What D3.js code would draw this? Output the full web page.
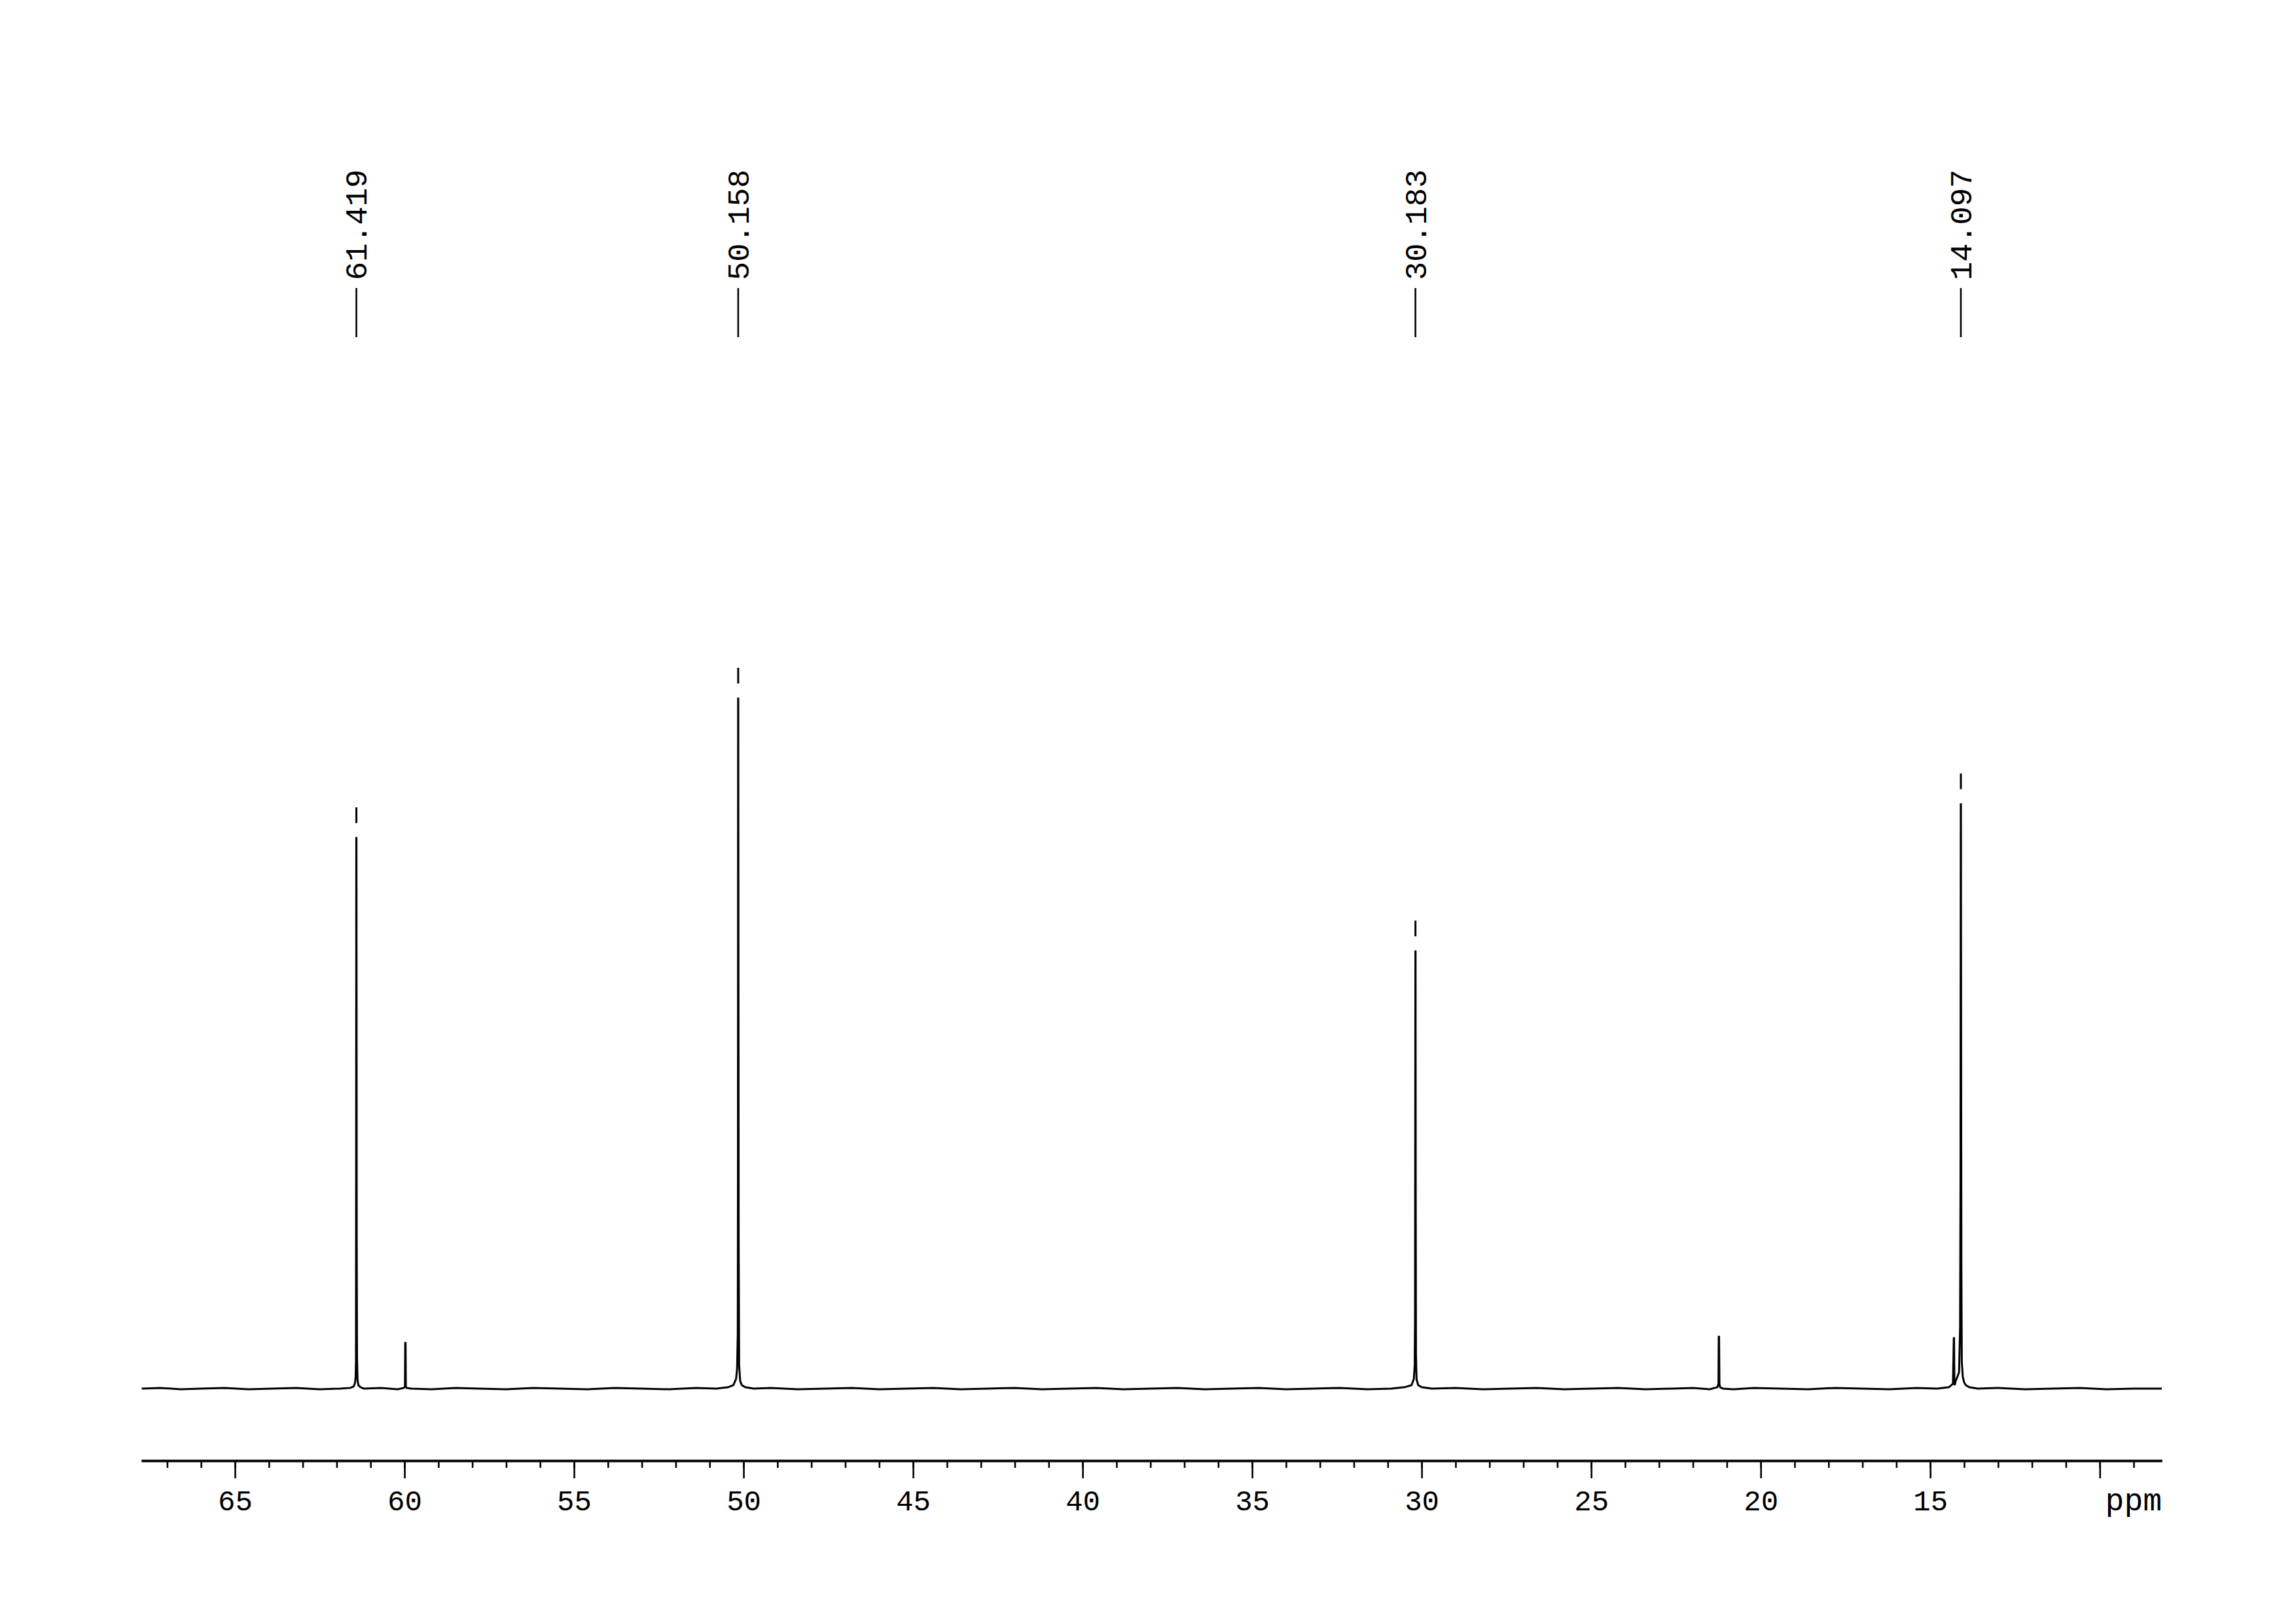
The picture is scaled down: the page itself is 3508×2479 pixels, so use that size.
<!DOCTYPE html>
<html>
<head>
<meta charset="utf-8">
<script src="https://cdn.jsdelivr.net/npm/d3@7"></script>
<style>
  html, body { margin: 0; padding: 0; background: #fff; }
  svg { display: block; }
</style>
</head>
<body>
<script>
// ---------- data ----------
const axisDomain = [67.76, 8.17];          // ppm, left -> right
const majorTicks = [65, 60, 55, 50, 45, 40, 35, 30, 25, 20, 15, 10];
const minorTicks = d3.range(67, 8, -1);   // every 1 ppm
const tickLabels = ["65","60","55","50","45","40","35","30","25","20","15",""];
const axisUnit = "ppm";

const peakLabels = [61.419, 50.158, 30.183, 14.097];
const peakLabelTexts = ["61.419", "50.158", "30.183", "14.097"];
const peakTops = [79.8, 100, 63.4, 84.7];  // intensity of labelled peaks

// spectrum trace: ppm and relative intensity
const tracePpm = [
  67.75, 67.2, 66.6, 66.0, 65.3, 64.6, 63.9, 63.2, 62.5, 61.9, 61.60, 61.50,
  61.46, 61.44, 61.430, 61.425, 61.421, 61.417, 61.413, 61.409, 61.400, 61.385, 61.36, 61.30, 61.2,
  60.7, 60.2, 60.02, 59.985, 59.978, 59.968, 59.960, 59.94, 59.8, 59.2, 58.5, 57.8, 57.0, 56.2,
  55.4, 54.6, 53.8, 53.0, 52.2, 51.4, 50.8, 50.45, 50.30, 50.22, 50.19, 50.170, 50.164,
  50.160, 50.156, 50.150, 50.144, 50.13, 50.10, 50.05, 49.95, 49.7, 49.2, 48.4, 47.6, 46.8,
  46.0, 45.2, 44.4, 43.6, 42.8, 42.0, 41.2, 40.4, 39.6, 38.8, 38.0, 37.2, 36.4, 35.6, 34.8,
  34.0, 33.2, 32.4, 31.6, 30.9, 30.5, 30.30, 30.23, 30.205, 30.195, 30.188, 30.184, 30.180,
  30.175, 30.168, 30.15, 30.10, 30.0, 29.7, 29.0, 28.2, 27.4, 26.6, 25.8, 25.0, 24.2, 23.4,
  22.6, 22.0, 21.5, 21.28, 21.245, 21.238, 21.228, 21.218, 21.20, 21.12, 20.8, 20.2, 19.4, 18.6,
  17.8, 17.0, 16.2, 15.4, 14.8, 14.45, 14.33, 14.305, 14.298, 14.288, 14.278, 14.25, 14.20, 14.15,
  14.120, 14.108, 14.100, 14.095, 14.090, 14.082, 14.07, 14.04, 14.00, 13.95, 13.85, 13.6, 13.0,
  12.2, 11.4, 10.6, 9.8, 9.0, 8.17
];
const traceInt = [
  0.1, 0.2, 0.0, 0.1, 0.2, 0.0, 0.1, 0.2, 0.0, 0.1, 0.2, 0.4,
  0.9, 1.8, 4.0, 36.0, 79.8, 79.8, 56.0, 22.0, 4.5, 1.4, 0.6, 0.3, 0.1,
  0.2, 0.0, 0.2, 0.4, 6.7, 6.7, 0.4, 0.2, 0.1, 0.0, 0.2, 0.1, 0.0, 0.2,
  0.1, 0.0, 0.2, 0.1, 0.0, 0.2, 0.1, 0.3, 0.6, 1.5, 3.0, 8.0, 32.0,
  100, 100, 60.0, 22.0, 3.5, 1.2, 0.6, 0.3, 0.1, 0.2, 0.0, 0.1, 0.2,
  0.0, 0.1, 0.2, 0.0, 0.1, 0.2, 0.0, 0.1, 0.2, 0.0, 0.1, 0.2, 0.0, 0.1, 0.2,
  0.0, 0.1, 0.2, 0.0, 0.1, 0.3, 0.6, 1.5, 3.5, 10.0, 45.0, 63.4, 63.4,
  28.0, 5.0, 1.4, 0.6, 0.3, 0.1, 0.2, 0.0, 0.1, 0.2, 0.0, 0.1, 0.2, 0.0,
  0.1, 0.2, 0.0, 0.3, 0.8, 7.6, 7.6, 0.8, 0.3, 0.1, 0.0, 0.2, 0.1, 0.0,
  0.2, 0.1, 0.0, 0.2, 0.1, 0.3, 0.8, 7.4, 7.4, 0.8, 0.6, 1.2, 1.8, 2.5,
  9.0, 30.0, 84.7, 84.7, 55.0, 18.0, 4.0, 1.8, 1.0, 0.6, 0.3, 0.1, 0.2,
  0.0, 0.1, 0.2, 0.0, 0.1, 0.1
];

// ---------- layout ----------
const W = 3508, H = 2479;
const plotLeft = 216, plotRight = 3303;
const baseY = 2122, fullY = 1067;
const axisY = 2231;
const FONT = "'Liberation Mono', 'DejaVu Sans Mono', monospace";

const svg = d3.select("body").append("svg")
  .attr("width", W).attr("height", H)
  .attr("viewBox", `0 0 ${W} ${H}`);
svg.append("rect").attr("width", W).attr("height", H).attr("fill", "#fff");

const x = d3.scaleLinear().domain(axisDomain).range([plotLeft, plotRight]);
const y = d3.scaleLinear().domain([0, 100]).range([baseY, fullY]);

// ---------- spectrum ----------
const n = Math.min(tracePpm.length, traceInt.length);
const trace = tracePpm.slice(0, n).map((p, i) => [p, traceInt[i]]);
svg.append("path")
  .datum(trace)
  .attr("fill", "none")
  .attr("stroke", "#000")
  .attr("stroke-width", 3)
  .attr("stroke-linejoin", "miter")
  .attr("d", d3.line().x(d => x(d[0])).y(d => y(d[1])));

// ---------- peak markers & labels ----------
const pk = svg.append("g");
peakLabels.forEach((v, i) => {
  const px = x(v);
  const top = y(peakTops[i]);
  // short mark above the peak top
  pk.append("line")
    .attr("x1", px).attr("x2", px)
    .attr("y1", top - 47).attr("y2", top - 23)
    .attr("stroke", "#000").attr("stroke-width", 3);
  // leader line
  pk.append("line")
    .attr("x1", px).attr("x2", px)
    .attr("y1", 440).attr("y2", 515)
    .attr("stroke", "#000").attr("stroke-width", 2.6);
  // rotated value
  pk.append("text")
    .attr("transform", `translate(${px + 16},${428}) rotate(-90)`)
    .attr("font-family", FONT)
    .attr("font-size", 47)
    .attr("fill", "#000")
    .text(peakLabelTexts[i]);
});

// ---------- axis ----------
const gAxis = svg.append("g").attr("transform", `translate(0,${axisY})`);
const minorAxis = d3.axisBottom(x).tickValues(minorTicks).tickSize(11).tickSizeOuter(0).tickFormat("");
gAxis.append("g").call(minorAxis);
const majorAxis = d3.axisBottom(x).tickValues(majorTicks).tickSize(27).tickSizeOuter(0)
  .tickFormat((d, i) => tickLabels[i]);
const gMaj = gAxis.append("g").call(majorAxis);

gAxis.selectAll(".domain").attr("stroke", "#000").attr("stroke-width", 3.4);
gAxis.selectAll(".tick line").attr("stroke", "#000").attr("stroke-width", 2.6);
gMaj.selectAll(".tick text")
  .attr("font-family", FONT)
  .attr("font-size", 44)
  .attr("fill", "#000")
  .attr("y", 45)
  .attr("dy", "0.71em");

gAxis.append("text")
  .attr("x", plotRight)
  .attr("y", 76)
  .attr("text-anchor", "end")
  .attr("font-family", FONT)
  .attr("font-size", 48)
  .attr("fill", "#000")
  .text(axisUnit);
</script>
</body>
</html>
